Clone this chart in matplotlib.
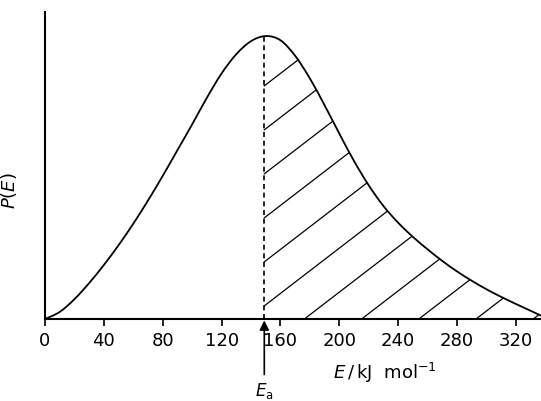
import numpy as np
import matplotlib
matplotlib.use('Agg')
import matplotlib.pyplot as plt
from matplotlib.path import Path
from matplotlib.patches import PathPatch

# Energy distribution (P normalised so the peak is 1)
energy = [0, 10, 20, 30, 40, 50, 60, 70, 80, 90, 100, 110, 120, 130, 140, 150,
          160, 170, 180, 190, 200, 210, 220, 230, 240, 250, 260, 270, 280, 290,
          300, 310, 320, 330, 337]
prob = [0.0, 0.025, 0.070, 0.127, 0.191, 0.261, 0.337, 0.419, 0.506, 0.597,
        0.688, 0.782, 0.868, 0.936, 0.982, 1.0, 0.985, 0.930, 0.850, 0.755,
        0.655, 0.558, 0.472, 0.399, 0.340, 0.290, 0.246, 0.205, 0.168, 0.135,
        0.105, 0.078, 0.053, 0.029, 0.012]
Ea = 149
xticks = [0, 40, 80, 120, 160, 200, 240, 280, 320]

plt.rcParams['font.family'] = ['DejaVu Sans']
plt.rcParams['mathtext.fontset'] = 'dejavusans'


def smooth_path(x, y):
    # catmull-rom through the points, drawn as cubic bezier segments
    pts = np.column_stack([x, y]).astype(float)
    ext = np.vstack([pts[0], pts, pts[-1]])
    verts = [pts[0]]
    codes = [Path.MOVETO]
    for i in range(1, len(ext) - 2):
        p0, p1, p2, p3 = ext[i - 1], ext[i], ext[i + 1], ext[i + 2]
        verts += [p1 + (p2 - p0) / 6, p2 - (p3 - p1) / 6, p2]
        codes += [Path.CURVE4] * 3
    return verts, codes


fig = plt.figure(figsize=(5.41, 4.02), dpi=100)
ax = fig.add_axes([45 / 541, 82 / 402, 496 / 541, 307 / 402])

E = np.array(energy)
P = np.array(prob)

verts, codes = smooth_path(E, P)
ax.add_patch(PathPatch(Path(verts, codes), facecolor='none', edgecolor='k',
                       lw=1.3))

# area under the curve, used to clip the hatching
area = Path(verts + [(E[-1], 0), (E[0], 0), (E[0], 0)],
            codes + [Path.LINETO, Path.LINETO, Path.CLOSEPOLY])

# dashed line at the activation energy, up to the curve
p_ea = np.interp(Ea, E, P)
ax.plot([Ea, Ea], [0, p_ea], color='k', lw=1.2, ls=(0, (3, 2.2)))

# hatched region E > Ea
slope = 0.0040       # hatch slope (P per kJ/mol)
step = 0.1555        # hatch spacing
hx = np.array([Ea, 345])
for k in range(11):
    hy = 0.824 - step * k + slope * (hx - Ea)
    ln, = ax.plot(hx, hy, color='k', lw=0.9)
    ln.set_clip_path(area, ax.transData)

ax.set_xlim(0, 337)
ax.set_ylim(0, 1.085)
ax.set_xticks(xticks)
ax.set_xticklabels([str(t) for t in xticks], fontsize=13)
ax.set_yticks([])
ax.tick_params(axis='x', direction='out', length=5, width=1.2, pad=4)
for s in ['top', 'right']:
    ax.spines[s].set_visible(False)
ax.spines['left'].set_linewidth(1.5)
ax.spines['bottom'].set_linewidth(1.5)

ax.annotate(r'$E_{\mathrm{a}}$', xy=(Ea, 0), xytext=(0, -71),
            textcoords='offset pixels', ha='center', va='center', fontsize=12,
            arrowprops=dict(arrowstyle='-|>', color='k', lw=1.2,
                            mutation_scale=14, shrinkA=2, shrinkB=1),
            annotation_clip=False)

ax.text(0.685, -0.172, r'$E\,/\,\mathrm{kJ\ \ mol^{-1}}$', transform=ax.transAxes,
        ha='center', va='center', fontsize=13)
ax.text(-0.072, 0.42, r'$P(E)$', transform=ax.transAxes, rotation=90,
        ha='center', va='center', fontsize=13)

fig.savefig('out.png', dpi=100)
